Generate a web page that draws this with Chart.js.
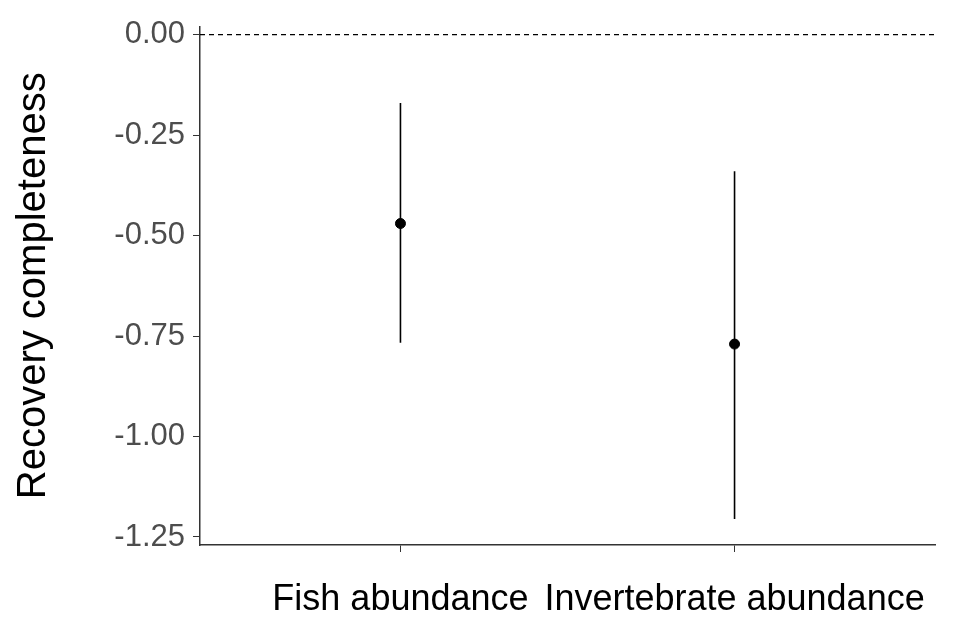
<!DOCTYPE html>
<html><head><meta charset="utf-8">
<script src="https://cdn.jsdelivr.net/npm/chart.js@4"></script>
<style>body{margin:0;background:#fff}#wrap{width:977px;height:620px}</style>
</head><body><div id="wrap"><canvas id="c"></canvas></div>
<script>
const categories = ['Fish abundance', 'Invertebrate abundance'];
const estimate = [-0.47, -0.77];
const lower = [-0.767, -1.205];
const upper = [-0.17, -0.34];
const yTicks = [0, -0.25, -0.5, -0.75, -1.0, -1.25];

const datasets = [{
  data: [{x: 0.4, y: 0}, {x: 2.6, y: 0}],
  borderColor: '#000', borderWidth: 1.3, borderDash: [5, 4], pointRadius: 0, showLine: true
}];
categories.forEach((c, i) => {
  datasets.push({
    data: [{x: i + 1, y: lower[i]}, {x: i + 1, y: upper[i]}],
    borderColor: '#000', borderWidth: 1.6, pointRadius: 0, showLine: true
  });
});
datasets.push({
  data: estimate.map((v, i) => ({x: i + 1, y: v})),
  backgroundColor: '#000', borderColor: '#000', pointRadius: 5, showLine: false
});

new Chart(document.getElementById('c'), {
  type: 'scatter',
  data: { datasets },
  options: {
    responsive: true, maintainAspectRatio: false, animation: false,
    layout: { padding: { top: 0, right: 42, left: 6, bottom: 0 } },
    plugins: { legend: { display: false }, tooltip: { enabled: false } },
    scales: {
      x: {
        type: 'linear', min: 0.4, max: 2.6,
        afterBuildTicks: s => { s.ticks = [{value: 1}, {value: 2}]; },
        afterFit: s => { s.height = 75; },
        ticks: { callback: v => categories[v - 1], color: '#000', font: { family: 'Liberation Sans', size: 36 }, padding: 26, maxRotation: 0 },
        grid: { drawOnChartArea: false, tickLength: 7, color: '#333' },
        border: { color: '#333', width: 1.5 }
      },
      y: {
        min: -1.27, max: 0.02,
        afterBuildTicks: s => { s.ticks = yTicks.map(v => ({value: v})); },
        afterFit: s => { s.width = 194; },
        ticks: { callback: v => v.toFixed(2), color: '#4d4d4d', font: { family: 'Liberation Sans', size: 31 }, padding: 8 },
        grid: { drawOnChartArea: false, tickLength: 7, color: '#333' },
        border: { color: '#333', width: 1.5 },
        title: { display: true, text: 'Recovery completeness', color: '#000', font: { family: 'Liberation Sans', size: 40 }, padding: { bottom: 6 } }
      }
    }
  }
});
</script></body></html>
